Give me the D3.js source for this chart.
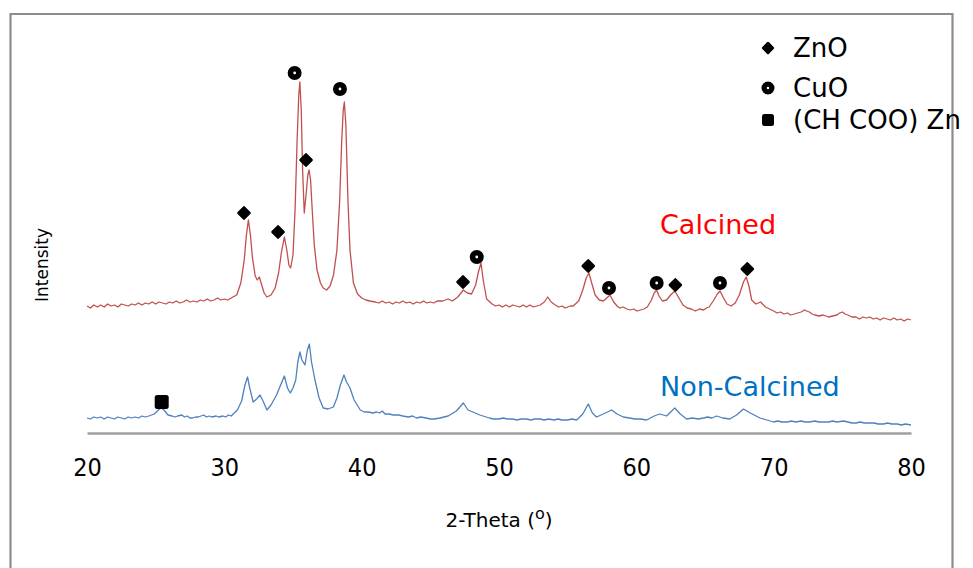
<!DOCTYPE html>
<html>
<head>
<meta charset="utf-8">
<script src="https://cdn.jsdelivr.net/npm/d3@7"></script>
<style>
  html, body { margin: 0; padding: 0; background: #ffffff; }
  svg { display: block; }
</style>
</head>
<body>
<svg id="chart" width="973" height="568"></svg>
<script>
// ---------------- DATA ----------------
const xTicks = [20, 30, 40, 50, 60, 70, 80];

// [2-theta, intensity (a.u.)]
const calcinedPoints = [
  [20.0,127],[20.25,125],[20.5,128],[20.75,126],[21.0,128],[21.25,126],[21.5,129],[21.75,127],
  [22.0,128],[22.25,126],[22.5,129],[22.75,128],[23.0,127],[23.25,129],[23.5,128],[23.75,130],
  [24.0,128],[24.25,130],[24.5,129],[24.75,131],[25.0,129],[25.25,131],[25.5,130],[25.75,129],
  [26.0,131],[26.25,130],[26.5,132],[26.75,130],[27.0,131],[27.25,133],[27.5,131],[27.75,132],
  [28.0,131],[28.25,133],[28.5,132],[28.75,134],[29.0,132],[29.25,133],[29.5,135],[29.75,133],
  [30.0,134],[30.25,133],[30.5,135],[30.9,138],[31.2,150],[31.45,173],[31.6,197],[31.75,213],
  [31.9,198],[32.05,175],[32.25,157],[32.4,153],[32.55,156],[32.7,149],[32.9,140],[33.1,136],
  [33.4,138],[33.7,145],[33.95,160],[34.15,180],[34.37,196],[34.55,183],[34.7,168],[34.83,165],
  [35.0,178],[35.15,223],[35.3,293],[35.42,338],[35.5,351],[35.6,323],[35.7,263],[35.82,220],
  [35.95,238],[36.08,258],[36.17,263],[36.28,253],[36.4,223],[36.55,188],[36.75,163],[37.0,150],
  [37.2,145],[37.45,143],[37.7,147],[37.95,158],[38.2,183],[38.4,233],[38.55,293],[38.66,323],
  [38.74,331],[38.85,308],[39.0,233],[39.15,183],[39.4,150],[39.7,139],[40.0,135],[40.3,133],
  [40.6,132],[41.0,131],[41.25,130],[41.5,132],[41.75,130],[42.0,131],[42.25,129],[42.5,131],
  [42.75,130],[43.0,132],[43.25,130],[43.5,131],[43.75,129],[44.0,131],[44.25,130],[44.5,132],
  [44.75,130],[45.0,131],[45.25,130],[45.5,132],[45.9,132],[46.3,134],[46.6,132],[47.0,136],
  [47.4,143],[47.7,140],[48.0,139],[48.3,148],[48.5,161],[48.69,170],[48.85,153],[49.1,134],
  [49.5,129],[49.75,127],[50.0,128],[50.25,126],[50.5,128],[50.75,126],[51.0,128],[51.25,127],
  [51.5,126],[51.75,128],[52.0,126],[52.25,128],[52.5,126],[52.75,127],[53.0,128],[53.3,131],
  [53.55,136],[53.8,131],[54.1,128],[54.35,126],[54.6,127],[54.8,125],[55.0,126],[55.2,127],
  [55.4,127],[55.8,132],[56.1,143],[56.35,155],[56.55,160],[56.75,150],[57.0,138],[57.3,133],
  [57.6,132],[57.85,135],[58.08,138],[58.35,131],[58.6,127],[58.8,125],[59.05,126],[59.3,124],
  [59.55,123],[59.8,124],[60.05,122],[60.3,123],[60.55,124],[60.8,126],[61.1,133],[61.3,140],
  [61.48,143],[61.65,137],[61.9,132],[62.2,133],[62.5,138],[62.8,142],[63.1,135],[63.4,128],
  [63.7,125],[64.0,124],[64.3,122],[64.6,124],[64.9,123],[65.1,125],[65.3,126],[65.6,132],
  [65.9,139],[66.1,142],[66.35,135],[66.6,129],[66.9,127],[67.2,130],[67.5,138],[67.8,151],
  [68.0,156],[68.2,147],[68.4,133],[68.7,129],[69.05,131],[69.4,126],[69.7,124],[70.0,122],
  [70.25,120],[70.5,121],[70.75,119],[71.0,120],[71.25,118],[71.5,119],[71.75,120],[72.0,121],
  [72.25,123],[72.4,122],[72.6,121],[72.8,119],[73.0,118],[73.3,117],[73.6,118],[74.0,116],
  [74.3,117],[74.6,118],[74.8,120],[75.0,121],[75.2,119],[75.4,118],[75.7,116],[76.0,116],
  [76.25,114],[76.5,116],[76.75,115],[77.0,116],[77.25,114],[77.5,115],[77.75,113],[78.0,115],
  [78.25,114],[78.5,113],[78.75,115],[79.0,113],[79.25,114],[79.5,112],[79.75,114],[80.0,113]
];

const nonCalcinedPoints = [
  [20.0,15],[20.25,14],[20.5,16],[20.75,15],[21.0,16],[21.25,14],[21.5,16],[21.75,15],
  [22.0,14],[22.25,16],[22.5,15],[22.75,14],[23.0,16],[23.25,15],[23.5,16],[23.75,15],
  [24.0,17],[24.25,16],[24.5,17],[24.9,19],[25.2,23],[25.4,25],[25.6,23],[25.9,18],
  [26.2,17],[26.4,16],[26.6,17],[26.9,18],[27.1,16],[27.3,17],[27.5,15],[27.7,15],
  [27.9,16],[28.1,16],[28.3,17],[28.5,18],[28.7,16],[28.9,17],[29.1,16],[29.4,17],
  [29.6,16],[29.9,17],[30.1,16],[30.3,18],[30.5,17],[30.65,19],[30.95,23],[31.26,32],
  [31.5,48],[31.69,56],[31.85,45],[32.1,31],[32.35,34],[32.6,38],[32.85,31],[33.1,23],
  [33.4,28],[33.8,38],[34.1,48],[34.37,57],[34.6,45],[34.8,40],[35.0,45],[35.2,53],
  [35.35,71],[35.5,81],[35.65,73],[35.87,68],[36.05,83],[36.19,89],[36.35,71],[36.6,53],
  [36.9,35],[37.2,25],[37.55,24],[37.94,26],[38.2,35],[38.45,48],[38.71,58],[38.9,51],
  [39.15,45],[39.45,33],[39.9,23],[40.2,21],[40.5,21],[40.8,20],[41.1,21],[41.3,20],
  [41.5,22],[41.7,19],[42.0,19],[42.3,18],[42.7,18],[43.0,17],[43.4,16],[43.7,17],
  [44.0,15],[44.3,16],[44.7,15],[45.0,14],[45.3,14],[45.7,15],[46.3,17],[46.9,22],
  [47.4,30],[47.75,23],[48.1,21],[48.6,18],[49.3,15],[49.6,14],[50.0,14],[50.3,15],
  [50.6,14],[51.0,14],[51.3,13],[51.6,14],[52.0,14],[52.3,13],[52.6,14],[53.0,14],
  [53.3,13],[53.6,14],[54.0,13],[54.3,14],[54.6,13],[55.0,13],[55.3,14],[55.66,13],
  [56.1,19],[56.5,29],[56.8,20],[57.1,16],[57.6,19],[58.2,23],[58.6,19],[59.05,16],
  [59.5,15],[59.9,14],[60.3,14],[60.75,13],[61.3,17],[61.7,19],[62.2,17],[62.8,25],
  [63.2,19],[63.66,14],[64.1,15],[64.5,14],[64.9,15],[65.2,16],[65.5,15],[65.85,17],
  [66.3,15],[66.8,14],[67.3,18],[67.8,24],[68.3,20],[69.0,15],[69.5,13],[70.0,11],
  [70.3,12],[70.6,11],[71.0,11],[71.3,12],[71.6,11],[72.0,12],[72.3,11],[72.6,11],
  [73.0,12],[73.3,11],[73.6,11],[74.0,11],[74.3,12],[74.6,11],[75.1,12],[75.4,11],
  [75.7,10],[76.0,10],[76.3,11],[76.6,10],[77.0,10],[77.3,10],[77.6,9],[78.0,9],
  [78.3,10],[78.6,9],[79.0,9],[79.3,8],[79.6,9],[80.0,8]
];

// phase markers: 2-theta position and the intensity level at which the symbol sits
const znoMarkerTheta = [31.43, 33.91, 35.95, 47.38, 56.5, 62.84, 68.08];
const znoMarkerLevel = [220, 201, 273, 151, 167, 148, 164];
const cuoMarkerTheta = [35.12, 38.42, 48.38, 58.01, 61.48, 66.09];
const cuoMarkerLevel = [360, 344, 176, 145, 150, 150];
const acetateMarkerTheta = [25.44];
const acetateMarkerLevel = [31];

const legendLabels = ["ZnO", "CuO", "(CH COO) Zn"];
const seriesNames = ["Calcined", "Non-Calcined"];

// ---------------- DRAWING ----------------
const svg = d3.select("#chart");

const x = d3.scaleLinear().domain([20, 80]).range([87, 911]);
const y = d3.scaleLinear().domain([0, 370]).range([433, 63]);

// outer frame (left, top, right)
svg.append("path")
  .attr("d", "M10.5,568 L10.5,14 L952.5,14 L952.5,568")
  .attr("fill", "none")
  .attr("stroke", "#8c8c8c")
  .attr("stroke-width", 2.2);

// x axis
const xAxis = d3.axisBottom(x).tickValues(xTicks).tickSize(0).tickPadding(25).tickFormat(d3.format("d"));
const gx = svg.append("g").attr("transform", "translate(0,433)").call(xAxis);
gx.select(".domain").attr("stroke", "#a0a0a0").attr("stroke-width", 2.4);
gx.selectAll("text")
  .attr("fill", "#000")
  .style("font-family", "'Liberation Sans Narrow', 'DejaVu Sans Condensed', sans-serif")
  .style("font-size", "25px");

// axis titles
const xt = svg.append("text")
  .attr("x", 499).attr("y", 527)
  .attr("text-anchor", "middle")
  .style("font-family", "'DejaVu Sans', sans-serif")
  .style("font-size", "20px")
  .attr("fill", "#000");
xt.append("tspan").text("2-Theta (");
xt.append("tspan").text("o").attr("dy", -8).style("font-size", "16px");
xt.append("tspan").text(")").attr("dy", 8);

svg.append("text")
  .attr("transform", "translate(48,265) rotate(-90)")
  .attr("text-anchor", "middle")
  .style("font-family", "'DejaVu Sans', sans-serif")
  .style("font-size", "17px")
  .attr("fill", "#000")
  .text("Intensity");

// series lines
const line = d3.line().x(d => x(d[0])).y(d => y(d[1]));

svg.append("path").datum(calcinedPoints)
  .attr("d", line).attr("fill", "none")
  .attr("stroke", "#c0504d").attr("stroke-width", 1.3).attr("stroke-linejoin", "round");
svg.append("path").datum(nonCalcinedPoints)
  .attr("d", line).attr("fill", "none")
  .attr("stroke", "#4f81bd").attr("stroke-width", 1.3).attr("stroke-linejoin", "round");

// series labels
svg.append("text").attr("x", 660).attr("y", 234)
  .style("font-family", "'DejaVu Sans', sans-serif").style("font-size", "27px")
  .attr("fill", "#ff0000").text(seriesNames[0]);
svg.append("text").attr("x", 660).attr("y", 396)
  .style("font-family", "'DejaVu Sans', sans-serif").style("font-size", "27px")
  .attr("fill", "#0070c0").text(seriesNames[1]);

// marker symbols
function diamond(g, cx, cy, s) {
  g.append("rect").attr("x", cx - s / 2).attr("y", cy - s / 2).attr("width", s).attr("height", s)
    .attr("rx", 1.5).attr("fill", "#000")
    .attr("transform", `rotate(45,${cx},${cy})`);
}
function ring(g, cx, cy, r) {
  g.append("circle").attr("cx", cx).attr("cy", cy).attr("r", r * 0.6)
    .attr("fill", "#fff").attr("stroke", "#000").attr("stroke-width", r * 0.8);
}
function square(g, cx, cy, s) {
  g.append("rect").attr("x", cx - s / 2).attr("y", cy - s / 2).attr("width", s).attr("height", s)
    .attr("rx", 2.5).attr("fill", "#000");
}

const gm = svg.append("g");
znoMarkerTheta.forEach((t, i) => diamond(gm, x(t), y(znoMarkerLevel[i]), 10.5));
cuoMarkerTheta.forEach((t, i) => ring(gm, x(t), y(cuoMarkerLevel[i]), 7));
acetateMarkerTheta.forEach((t, i) => square(gm, x(t), y(acetateMarkerLevel[i]), 14));

// legend
const gl = svg.append("g");
diamond(gl, 768, 48, 9.5);
ring(gl, 768, 88, 6.5);
square(gl, 768, 120, 12);
const legendY = [48, 88, 120];
legendLabels.forEach((lab, i) => {
  gl.append("text").attr("x", 793).attr("y", legendY[i] + 9)
    .style("font-family", "'DejaVu Sans', sans-serif").style("font-size", "26px")
    .attr("fill", "#000").text(lab);
});
</script>
</body>
</html>
